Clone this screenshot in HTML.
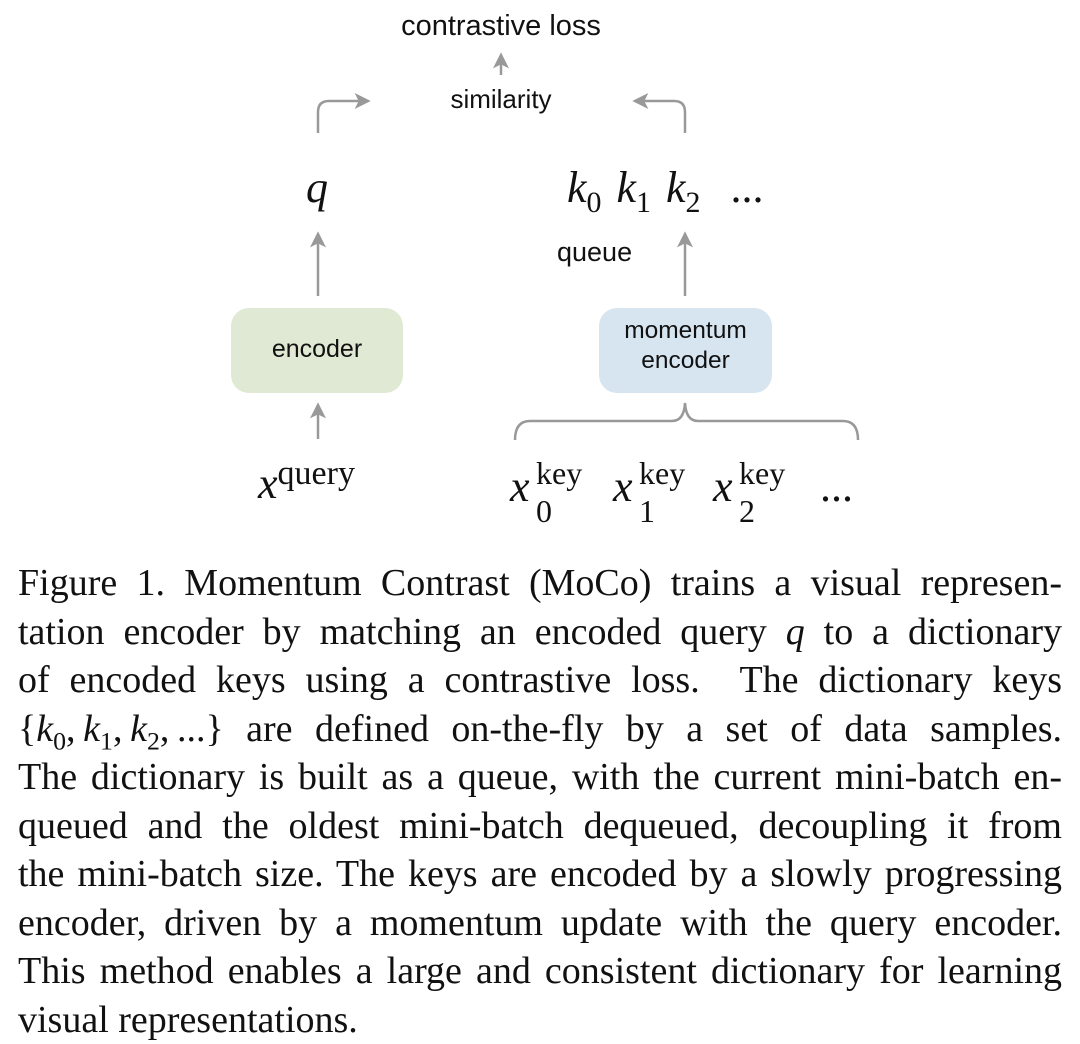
<!DOCTYPE html>
<html><head><meta charset="utf-8"><style>
body{margin:0;background:#fff;width:1080px;height:1038px;overflow:hidden;position:relative}
.s{position:absolute;font-family:"Liberation Sans",sans-serif;color:#111;white-space:nowrap}
.m{position:absolute;font-family:"Liberation Serif",serif;color:#111;white-space:nowrap}
.cap{position:absolute;left:18px;top:559px;width:1044px;font-family:"Liberation Serif",serif;font-size:38px;line-height:48.5px;color:#111}
.cap div{text-align:justify;text-align-last:justify;white-space:nowrap;height:48.5px}
.cap div.last{text-align-last:left}
i{font-style:italic}
sub,sup{font-size:68%}
</style></head><body>
<svg width="1080" height="560" style="position:absolute;left:0;top:0">
<defs>
<marker id="b" viewBox="0 0 12 12" markerWidth="16" markerHeight="16" refX="10" refY="6" orient="auto" markerUnits="userSpaceOnUse"><path d="M0,0 L12,6 L0,12 L3,6 Z" fill="#999"/></marker></defs>
<g stroke="#999" stroke-width="2.5" fill="none">
<line x1="501" y1="75" x2="501" y2="55" marker-end="url(#b)"/>
<path d="M318,133 V112 Q318,101 329,101 H368" marker-end="url(#b)"/>
<path d="M685,133 V112 Q685,101 674,101 H635" marker-end="url(#b)"/>
<line x1="318" y1="296" x2="318" y2="234" marker-end="url(#b)"/>
<line x1="685" y1="296" x2="685" y2="234" marker-end="url(#b)"/>
<line x1="318" y1="439" x2="318" y2="405" marker-end="url(#b)"/>
<path d="M515,440 Q515,421 530,421 H672 Q684,421 685,403 Q686,421 698,421 H843 Q858,421 858,440"/>
</g>
<rect x="231" y="308" width="172" height="85" rx="18" fill="#dfe9d3"/>
<rect x="599" y="308" width="173" height="85" rx="18" fill="#d6e5f0"/>
</svg>
<div class="s" style="left:301px;width:400px;text-align:center;top:10px;font-size:29px">contrastive loss</div>
<div class="s" style="left:401px;width:200px;text-align:center;top:84px;font-size:26px">similarity</div>
<div class="s" style="left:557px;top:237px;font-size:27px">queue</div>
<div class="s" style="left:231px;top:335px;width:172px;text-align:center;font-size:25px">encoder</div>
<div class="s" style="left:599px;top:316px;width:173px;text-align:center;font-size:24.5px;line-height:30px">momentum<br>encoder</div>
<div class="m" style="left:306px;top:162px;font-size:44px"><i>q</i></div>
<div class="m" style="left:567px;top:162px;font-size:44px;word-spacing:4px"><i>k</i><sub>0</sub> <i>k</i><sub>1</sub> <i>k</i><sub>2</sub> &nbsp;...</div>
<div class="m" style="left:258px;top:458px;font-size:44px"><i>x</i><span style="font-size:34px;position:relative;top:-14px">query</span></div>
<div class="m" style="left:510px;top:462px;font-size:44px;line-height:50px">
<span style="display:inline-block;position:relative;width:103px"><i>x</i><span style="position:absolute;left:26px;top:-14px;font-size:32px">key</span><span style="position:absolute;left:26px;top:24px;font-size:32px">0</span></span><span style="display:inline-block;position:relative;width:100px"><i>x</i><span style="position:absolute;left:26px;top:-14px;font-size:32px">key</span><span style="position:absolute;left:26px;top:24px;font-size:32px">1</span></span><span style="display:inline-block;position:relative;width:107px"><i>x</i><span style="position:absolute;left:26px;top:-14px;font-size:32px">key</span><span style="position:absolute;left:26px;top:24px;font-size:32px">2</span></span>...</div>
<div class="cap">
<div>Figure 1. Momentum Contrast (MoCo) trains a visual represen-</div>
<div>tation encoder by matching an encoded query <i>q</i> to a dictionary</div>
<div>of encoded keys using a contrastive loss. &nbsp;The dictionary keys</div>
<div>{<i>k</i><sub>0</sub>,&#8201;<i>k</i><sub>1</sub>,&#8201;<i>k</i><sub>2</sub>,&#8201;...} are defined on-the-fly by a set of data samples.</div>
<div>The dictionary is built as a queue, with the current mini-batch en-</div>
<div>queued and the oldest mini-batch dequeued, decoupling it from</div>
<div>the mini-batch size. The keys are encoded by a slowly progressing</div>
<div>encoder, driven by a momentum update with the query encoder.</div>
<div>This method enables a large and consistent dictionary for learning</div>
<div class="last">visual representations.</div>
</div>
</body></html>
